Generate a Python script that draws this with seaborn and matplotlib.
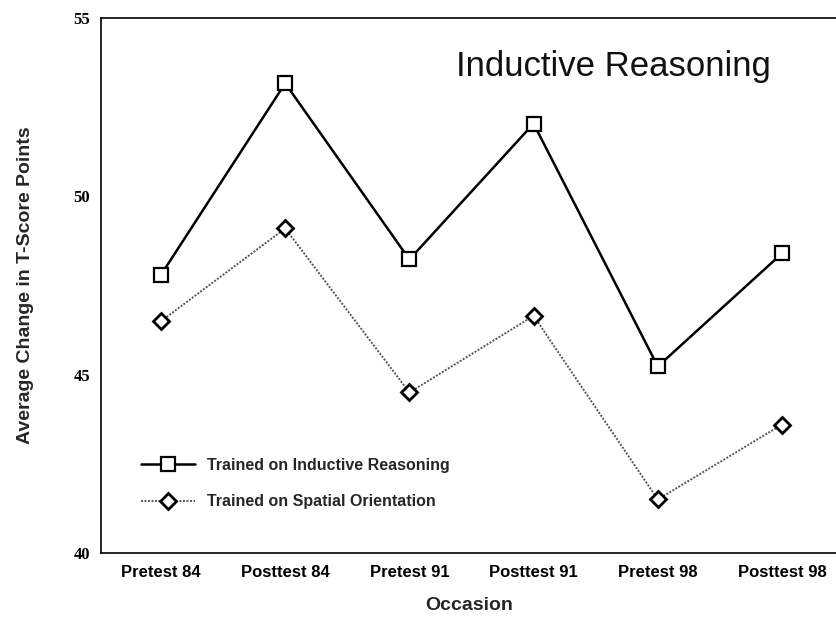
import pandas as pd
import seaborn as sns
import matplotlib.pyplot as plt

# values
occasions = ['Pretest 84', 'Posttest 84', 'Pretest 91', 'Posttest 91', 'Pretest 98', 'Posttest 98']
inductive = [47.8, 53.17, 48.23, 52.04, 45.23, 48.4]
spatial = [46.5, 49.1, 44.5, 46.65, 41.5, 43.6]

sns.set_style('white')
plt.rcParams['font.family'] = ['Liberation Sans', 'DejaVu Sans']

fig = plt.figure(figsize=(8.37, 6.22), dpi=100)
ax = fig.add_axes([0.1207, 0.111, 0.8793, 0.86])

sns.lineplot(x=occasions, y=inductive, ax=ax, color='black', linewidth=1.8,
             marker='s', markersize=10, markerfacecolor='white',
             markeredgecolor='black', markeredgewidth=1.6,
             label='Trained on Inductive Reasoning', sort=False)
sns.lineplot(x=occasions, y=spatial, ax=ax, color='#555555', linewidth=1.4,
             linestyle=(0, (1, 0.8)), marker='D', markersize=8,
             markerfacecolor='white', markeredgecolor='black', markeredgewidth=2.0,
             label='Trained on Spatial Orientation', sort=False)

ax.set_xlim(-0.483, 5.443)
ax.set_ylim(40, 55)
ax.set_yticks([40, 45, 50, 55])
ax.set_yticklabels(['40', '45', '50', '55'], family='Liberation Serif',
                   fontweight='bold', fontsize=12)
ax.set_xticks(range(len(occasions)))
ax.set_xticklabels(occasions, fontweight='bold', fontsize=12)
ax.tick_params(axis='both', direction='out', length=5, width=1, colors='black', pad=3)
ax.tick_params(axis='x', pad=4)

for s in ['left', 'bottom', 'top']:
    ax.spines[s].set_visible(True)
    ax.spines[s].set_color('black')
    ax.spines[s].set_linewidth(1.2)
ax.spines['right'].set_visible(False)

ax.set_xlabel('Occasion', fontweight='bold', fontsize=14, labelpad=12)
ax.set_ylabel('Average Change in T-Score Points', fontweight='bold', fontsize=14, labelpad=28)

ax.text(0.696, 0.91, 'Inductive Reasoning', transform=ax.transAxes,
        fontsize=25, ha='center', va='center', color='#111111')

ax.legend(loc='lower left', bbox_to_anchor=(0.035, 0.055), frameon=False,
          prop={'weight': 'bold', 'size': 11.5},
          handlelength=3.4, labelspacing=1.35, handletextpad=0.7)

fig.savefig('out.png', dpi=100)
